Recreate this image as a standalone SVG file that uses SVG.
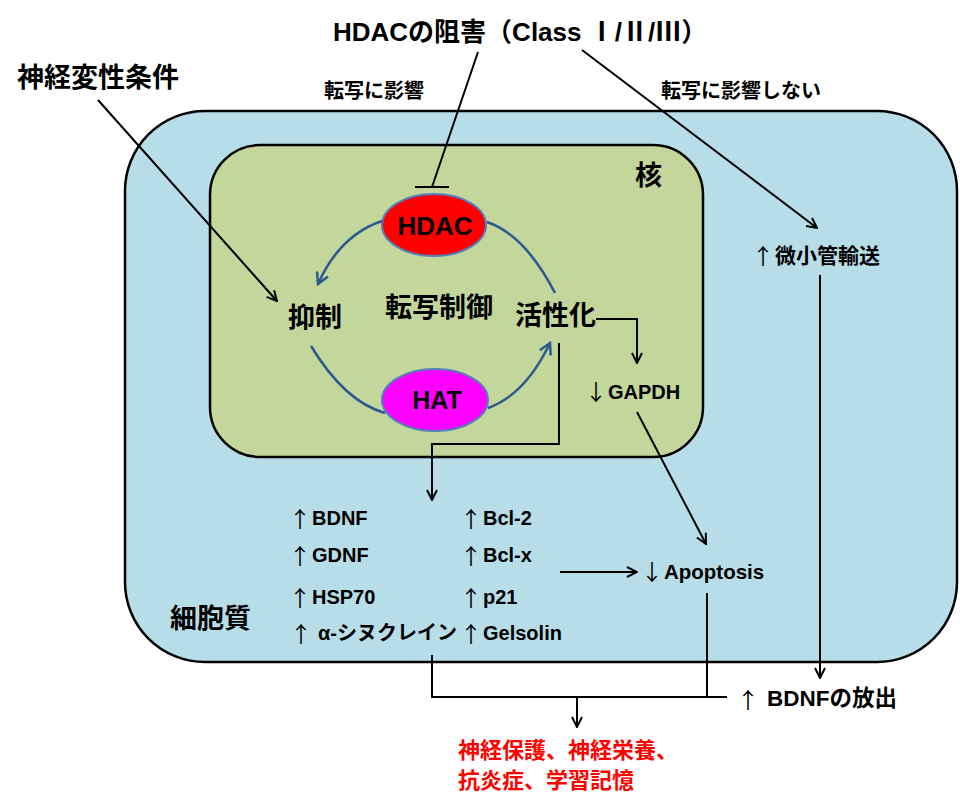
<svg xmlns="http://www.w3.org/2000/svg" width="960" height="811" viewBox="0 0 960 811">
<defs>
<style>
text{font-family:"Liberation Sans","Noto Sans CJK JP",sans-serif;font-weight:bold;fill:#000}
.ar{font-family:"Noto Sans CJK JP",sans-serif;font-weight:normal;font-size:22px}
.ln{fill:none;stroke:#000;stroke-width:2}
.bl{fill:none;stroke:#2C5A8E;stroke-width:2.5}
.red{fill:#FF0000}
</style>
<marker id="ah" markerWidth="12" markerHeight="12" viewBox="0 0 12 12" refX="11" refY="6" orient="auto" markerUnits="userSpaceOnUse">
<path d="M1,1 L11,6 L1,11" fill="none" stroke="#000" stroke-width="2"/>
</marker>
<marker id="bh" markerWidth="14" markerHeight="14" viewBox="0 0 14 14" refX="12" refY="7" orient="auto" markerUnits="userSpaceOnUse">
<path d="M1,1 L12,7 L1,13" fill="none" stroke="#2C5A8E" stroke-width="2.5"/>
</marker>
</defs>
<rect width="960" height="811" fill="#fff"/>
<g id="cell"><rect x="125" y="111" width="832" height="551" rx="80" ry="80" fill="#B7DEE8" stroke="#000" stroke-width="2.5"/>
<text x="170" y="628" font-size="27">細胞質</text></g>
<g id="nucleus"><rect x="210" y="145" width="493" height="312" rx="50" ry="50" fill="#C3D69B" stroke="#000" stroke-width="2.5"/>
<text x="635" y="185" font-size="27">核</text></g>
<g id="hdac"><ellipse cx="434" cy="225" rx="52" ry="31" fill="#FF0000" stroke="#4F81BD" stroke-width="2"/>
<text x="435" y="235" font-size="26" text-anchor="middle">HDAC</text></g>
<g id="hat"><ellipse cx="435" cy="400" rx="53" ry="31" fill="#FF00FF" stroke="#4F81BD" stroke-width="2"/>
<text x="437" y="409" font-size="25" text-anchor="middle">HAT</text></g>
<g id="repress"><text x="288" y="327" font-size="27">抑制</text></g>
<g id="tc"><text x="385" y="317" font-size="27">転写制御</text></g>
<g id="activ"><text x="515" y="325" font-size="27">活性化</text></g>
<g id="title"><text x="333" y="41" font-size="26">HDACの阻害（Class Ⅰ/Ⅱ/Ⅲ）</text></g>
<g id="neuro"><text x="17" y="87" font-size="27">神経変性条件</text></g>
<g id="lab1"><text x="374" y="98" font-size="20" text-anchor="middle">転写に影響</text></g>
<g id="lab2"><text x="741" y="98" font-size="20" text-anchor="middle">転写に影響しない</text></g>
<g id="mt"><text font-size="21"><tspan class="ar" x="752" y="264">↑</tspan><tspan x="775" y="263">微小管輸送</tspan></text></g>
<g id="gapdh"><text font-size="20"><tspan class="ar" x="585" y="400">↓</tspan><tspan x="608" y="399">GAPDH</tspan></text></g>
<g id="apop"><text font-size="20.5"><tspan class="ar" x="641" y="580">↓</tspan><tspan x="664" y="579">Apoptosis</tspan></text></g>
<g id="genes">
<text font-size="20"><tspan class="ar" x="289" y="527">↑</tspan><tspan x="312" y="525">BDNF</tspan></text>
<text font-size="20"><tspan class="ar" x="289" y="564">↑</tspan><tspan x="312" y="562">GDNF</tspan></text>
<text font-size="20"><tspan class="ar" x="289" y="606">↑</tspan><tspan x="312" y="604">HSP70</tspan></text>
<text font-size="20"><tspan class="ar" x="290" y="642">↑</tspan><tspan x="318" y="640">α-シヌクレイン</tspan></text>
<text font-size="20"><tspan class="ar" x="460" y="527">↑</tspan><tspan x="483" y="525">Bcl-2</tspan></text>
<text font-size="20"><tspan class="ar" x="460" y="564">↑</tspan><tspan x="483" y="562">Bcl-x</tspan></text>
<text font-size="20"><tspan class="ar" x="460" y="606">↑</tspan><tspan x="483" y="604">p21</tspan></text>
<text font-size="20"><tspan class="ar" x="460" y="642">↑</tspan><tspan x="483" y="640">Gelsolin</tspan></text>
</g>
<g id="bdnfrel"><text font-size="22.5"><tspan class="ar" x="737" y="708">↑</tspan><tspan x="767" y="706">BDNFの放出</tspan></text></g>
<g id="outcome"><text class="red" x="458" y="758" font-size="22">神経保護、神経栄養、</text><text class="red" x="458" y="788" font-size="22">抗炎症、学習記憶</text></g>
<g id="connectors">
<path class="ln" d="M478,52 L432,187 M415,187 L449,187"/>
<path class="ln" d="M98,100 L277,301" marker-end="url(#ah)"/>
<path class="ln" d="M582,50 L817,228" marker-end="url(#ah)"/>
<path class="ln" d="M820,275 L820,678" marker-end="url(#ah)"/>
<path class="ln" d="M596,319 L637,319 L637,363" marker-end="url(#ah)"/>
<path class="ln" d="M637,412 L706,544" marker-end="url(#ah)"/>
<path class="ln" d="M560,572 L637,572" marker-end="url(#ah)"/>
<path class="ln" d="M559,343 L559,444 L432,444 L432,500" marker-end="url(#ah)"/>
<path class="ln" d="M432,655 L432,697 L727,697 M707,593 L707,697"/>
<path class="ln" d="M577,697 L577,727" marker-end="url(#ah)"/>
<path class="bl" d="M382,221 Q340,235 318,284" marker-end="url(#bh)"/>
<path class="bl" d="M487,222 Q525,235 555,293"/>
<path class="bl" d="M311,346 Q345,402 385,413"/>
<path class="bl" d="M488,408 Q525,395 550,343" marker-end="url(#bh)"/>
</g>
</svg>
